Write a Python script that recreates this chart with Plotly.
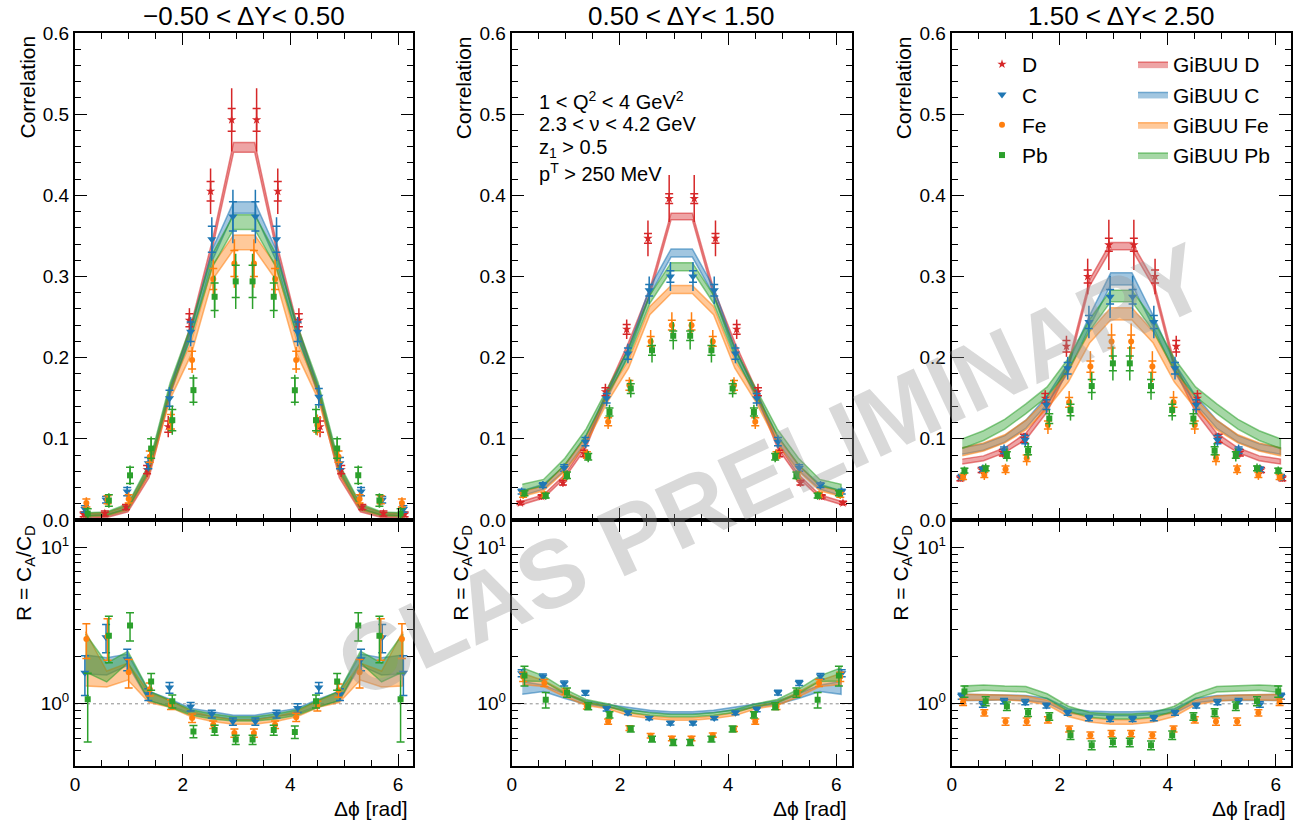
import numpy as np
import plotly.graph_objects as go

TWO_PI = 2 * np.pi

# bin centres in delta-phi (16 bins over 0..2pi)
PHI = [0.196, 0.589, 0.982, 1.374, 1.767, 2.160, 2.553, 2.945,
       3.338, 3.731, 4.123, 4.516, 4.909, 5.301, 5.694, 6.087]

TITLES = ["\u22120.50 < \u0394Y< 0.50", "0.50 < \u0394Y< 1.50", "1.50 < \u0394Y< 2.50"]
TARGETS = ["D", "C", "Fe", "Pb"]
NUCLEI = ["C", "Fe", "Pb"]

# ---------------- -0.50 < dY < 0.50 ----------------
D_CORR_1 = [0.007, 0.008, 0.016, 0.062, 0.115, 0.246, 0.405, 0.493, 0.493, 0.405, 0.246, 0.115, 0.062, 0.016, 0.008, 0.007]
D_STAT_1 = [0.003, 0.003, 0.003, 0.005, 0.007, 0.008, 0.012, 0.014, 0.014, 0.012, 0.008, 0.007, 0.005, 0.003, 0.003, 0.003]
D_TOT_1 = [0.004, 0.004, 0.005, 0.009, 0.013, 0.015, 0.028, 0.039, 0.039, 0.028, 0.015, 0.013, 0.009, 0.005, 0.004, 0.004]
C_CORR_1 = [0.0135, 0.025, 0.035, 0.070, 0.150, 0.232, 0.346, 0.374, 0.374, 0.346, 0.232, 0.152, 0.070, 0.035, 0.025, 0.0135]
C_STAT_1 = [0.004, 0.004, 0.005, 0.007, 0.010, 0.012, 0.016, 0.018, 0.018, 0.016, 0.012, 0.010, 0.007, 0.005, 0.004, 0.004]
C_TOT_1 = [0.006, 0.006, 0.007, 0.010, 0.014, 0.018, 0.027, 0.033, 0.033, 0.027, 0.018, 0.014, 0.010, 0.007, 0.006, 0.006]
FE_CORR_1 = [0.021, 0.025, 0.026, 0.078, 0.121, 0.197, 0.297, 0.316, 0.316, 0.297, 0.197, 0.117, 0.078, 0.026, 0.025, 0.021]
FE_STAT_1 = [0.005, 0.005, 0.005, 0.007, 0.009, 0.011, 0.013, 0.016, 0.016, 0.013, 0.011, 0.009, 0.007, 0.005, 0.005, 0.005]
FE_TOT_1 = [0.007, 0.007, 0.008, 0.010, 0.013, 0.016, 0.024, 0.030, 0.030, 0.024, 0.016, 0.013, 0.010, 0.008, 0.007, 0.007]
PB_CORR_1 = [0.008, 0.024, 0.055, 0.088, 0.123, 0.160, 0.275, 0.294, 0.294, 0.275, 0.160, 0.123, 0.088, 0.055, 0.024, 0.008]
PB_STAT_1 = [0.006, 0.007, 0.010, 0.012, 0.013, 0.015, 0.017, 0.020, 0.020, 0.017, 0.015, 0.013, 0.012, 0.010, 0.007, 0.006]
PB_TOT_1 = [0.008, 0.009, 0.012, 0.015, 0.018, 0.019, 0.026, 0.034, 0.034, 0.026, 0.019, 0.018, 0.015, 0.012, 0.009, 0.008]

D_GIB_1 = [0.004, 0.005, 0.012, 0.055, 0.158, 0.238, 0.340, 0.459, 0.459, 0.340, 0.238, 0.158, 0.055, 0.012, 0.005, 0.004]
D_GIBW_1 = [0.002, 0.002, 0.002, 0.003, 0.004, 0.004, 0.005, 0.006, 0.006, 0.005, 0.004, 0.004, 0.003, 0.002, 0.002, 0.002]
C_GIB_1 = [0.006, 0.007, 0.015, 0.062, 0.160, 0.232, 0.327, 0.385, 0.385, 0.327, 0.232, 0.160, 0.062, 0.015, 0.007, 0.006]
C_GIBW_1 = [0.002, 0.002, 0.003, 0.004, 0.005, 0.006, 0.007, 0.007, 0.007, 0.007, 0.006, 0.005, 0.004, 0.003, 0.002, 0.002]
FE_GIB_1 = [0.006, 0.007, 0.015, 0.060, 0.155, 0.212, 0.305, 0.342, 0.342, 0.305, 0.212, 0.155, 0.060, 0.015, 0.007, 0.006]
FE_GIBW_1 = [0.002, 0.002, 0.003, 0.004, 0.006, 0.008, 0.009, 0.009, 0.009, 0.009, 0.008, 0.006, 0.004, 0.003, 0.002, 0.002]
PB_GIB_1 = [0.007, 0.008, 0.017, 0.065, 0.164, 0.234, 0.320, 0.367, 0.367, 0.320, 0.234, 0.164, 0.065, 0.017, 0.008, 0.007]
PB_GIBW_1 = [0.002, 0.002, 0.003, 0.004, 0.005, 0.007, 0.008, 0.009, 0.009, 0.008, 0.007, 0.005, 0.004, 0.003, 0.002, 0.002]

C_RAT_1 = [1.58, 2.67, 1.93, 1.15, 1.27, 0.96, 0.86, 0.77, 0.77, 0.86, 0.94, 1.27, 1.15, 1.93, 2.67, 1.58]
C_RERR_1 = [0.45, 0.55, 0.30, 0.10, 0.10, 0.06, 0.05, 0.04, 0.04, 0.05, 0.06, 0.10, 0.10, 0.30, 0.55, 0.45]
FE_RAT_1 = [2.60, 2.70, 1.59, 1.24, 0.99, 0.81, 0.735, 0.65, 0.65, 0.735, 0.82, 0.97, 1.22, 1.59, 2.70, 2.60]
FE_RERR_1 = [0.65, 0.80, 0.33, 0.12, 0.07, 0.05, 0.04, 0.04, 0.04, 0.04, 0.05, 0.07, 0.12, 0.33, 0.80, 0.65]
PB_RAT_1 = [1.07, 2.73, 3.17, 1.39, 1.04, 0.666, 0.68, 0.59, 0.59, 0.68, 0.66, 1.04, 1.39, 3.17, 2.73, 1.07]
PB_RERR_1 = [0.50, 0.90, 0.65, 0.17, 0.10, 0.06, 0.05, 0.04, 0.04, 0.05, 0.06, 0.10, 0.17, 0.65, 0.90, 0.50]

C_RGIB_1 = [1.80, 1.75, 1.92, 1.12, 1.02, 0.90, 0.86, 0.82, 0.82, 0.86, 0.90, 1.02, 1.12, 1.92, 1.75, 1.80]
C_RGIBW_1 = [0.25, 0.22, 0.16, 0.08, 0.05, 0.035, 0.03, 0.025, 0.025, 0.03, 0.035, 0.05, 0.08, 0.16, 0.22, 0.25]
FE_RGIB_1 = [2.10, 1.45, 1.62, 1.10, 1.00, 0.86, 0.80, 0.765, 0.765, 0.80, 0.86, 1.00, 1.10, 1.62, 1.45, 2.10]
FE_RGIBW_1 = [0.80, 0.17, 0.20, 0.08, 0.05, 0.035, 0.03, 0.025, 0.025, 0.03, 0.035, 0.05, 0.08, 0.20, 0.17, 0.80]
PB_RGIB_1 = [2.20, 1.60, 2.00, 1.13, 1.00, 0.88, 0.83, 0.80, 0.80, 0.83, 0.88, 1.00, 1.13, 2.00, 1.60, 2.20]
PB_RGIBW_1 = [0.60, 0.22, 0.17, 0.08, 0.05, 0.035, 0.03, 0.025, 0.025, 0.03, 0.035, 0.05, 0.08, 0.17, 0.22, 0.60]

# ---------------- 0.50 < dY < 1.50 ----------------
D_CORR_2 = [0.021, 0.029, 0.046, 0.082, 0.158, 0.235, 0.347, 0.396, 0.396, 0.347, 0.235, 0.158, 0.082, 0.046, 0.029, 0.021]
D_STAT_2 = [0.002, 0.002, 0.003, 0.004, 0.005, 0.006, 0.006, 0.006, 0.006, 0.006, 0.006, 0.005, 0.004, 0.003, 0.002, 0.002]
D_TOT_2 = [0.003, 0.004, 0.005, 0.007, 0.010, 0.012, 0.022, 0.029, 0.029, 0.022, 0.012, 0.010, 0.007, 0.005, 0.004, 0.003]
C_CORR_2 = [0.035, 0.043, 0.064, 0.0965, 0.150, 0.205, 0.283, 0.300, 0.300, 0.283, 0.205, 0.150, 0.0965, 0.064, 0.043, 0.035]
C_STAT_2 = [0.003, 0.003, 0.004, 0.005, 0.006, 0.007, 0.007, 0.007, 0.007, 0.007, 0.007, 0.006, 0.005, 0.004, 0.003, 0.003]
C_TOT_2 = [0.005, 0.005, 0.006, 0.008, 0.010, 0.012, 0.017, 0.018, 0.018, 0.017, 0.012, 0.010, 0.008, 0.006, 0.005, 0.005]
FE_CORR_2 = [0.031, 0.031, 0.055, 0.080, 0.121, 0.166, 0.220, 0.240, 0.240, 0.220, 0.166, 0.121, 0.080, 0.055, 0.031, 0.031]
FE_STAT_2 = [0.003, 0.003, 0.004, 0.004, 0.005, 0.006, 0.006, 0.006, 0.006, 0.006, 0.006, 0.005, 0.004, 0.004, 0.003, 0.003]
FE_TOT_2 = [0.005, 0.005, 0.006, 0.007, 0.009, 0.010, 0.014, 0.016, 0.016, 0.014, 0.010, 0.009, 0.007, 0.006, 0.005, 0.005]
PB_CORR_2 = [0.033, 0.030, 0.055, 0.078, 0.133, 0.162, 0.209, 0.227, 0.227, 0.209, 0.162, 0.133, 0.078, 0.055, 0.030, 0.033]
PB_STAT_2 = [0.003, 0.003, 0.004, 0.004, 0.005, 0.006, 0.006, 0.006, 0.006, 0.006, 0.006, 0.005, 0.004, 0.004, 0.003, 0.003]
PB_TOT_2 = [0.005, 0.005, 0.006, 0.007, 0.009, 0.011, 0.015, 0.017, 0.017, 0.015, 0.011, 0.009, 0.007, 0.006, 0.005, 0.005]

D_GIB_2 = [0.021, 0.029, 0.054, 0.092, 0.158, 0.216, 0.281, 0.374, 0.374, 0.281, 0.216, 0.158, 0.092, 0.054, 0.029, 0.021]
D_GIBW_2 = [0.002, 0.002, 0.002, 0.003, 0.003, 0.003, 0.004, 0.004, 0.004, 0.004, 0.003, 0.003, 0.003, 0.002, 0.002, 0.002]
C_GIB_2 = [0.033, 0.041, 0.064, 0.100, 0.154, 0.208, 0.282, 0.329, 0.329, 0.282, 0.208, 0.154, 0.100, 0.064, 0.041, 0.033]
C_GIBW_2 = [0.003, 0.003, 0.003, 0.004, 0.004, 0.004, 0.005, 0.005, 0.005, 0.005, 0.004, 0.004, 0.004, 0.003, 0.003, 0.003]
FE_GIB_2 = [0.032, 0.039, 0.064, 0.098, 0.150, 0.192, 0.258, 0.284, 0.284, 0.258, 0.192, 0.150, 0.098, 0.064, 0.039, 0.032]
FE_GIBW_2 = [0.003, 0.003, 0.004, 0.004, 0.005, 0.005, 0.005, 0.005, 0.005, 0.005, 0.005, 0.005, 0.004, 0.004, 0.003, 0.003]
PB_GIB_2 = [0.040, 0.046, 0.072, 0.108, 0.158, 0.206, 0.272, 0.312, 0.312, 0.272, 0.206, 0.158, 0.108, 0.072, 0.046, 0.040]
PB_GIBW_2 = [0.004, 0.004, 0.004, 0.004, 0.004, 0.005, 0.005, 0.005, 0.005, 0.005, 0.005, 0.004, 0.004, 0.004, 0.004, 0.004]

C_RAT_2 = [1.57, 1.49, 1.35, 1.175, 0.93, 0.875, 0.81, 0.753, 0.753, 0.81, 0.875, 0.92, 1.18, 1.36, 1.50, 1.57]
C_RERR_2 = [0.08, 0.06, 0.05, 0.04, 0.03, 0.025, 0.02, 0.02, 0.02, 0.02, 0.025, 0.03, 0.04, 0.05, 0.06, 0.08]
FE_RAT_2 = [1.49, 1.36, 1.20, 0.966, 0.77, 0.70, 0.625, 0.60, 0.60, 0.63, 0.69, 0.77, 0.96, 1.17, 1.36, 1.49]
FE_RERR_2 = [0.10, 0.07, 0.05, 0.04, 0.03, 0.025, 0.02, 0.02, 0.02, 0.02, 0.025, 0.03, 0.04, 0.05, 0.07, 0.10]
PB_RAT_2 = [1.52, 1.06, 1.18, 0.966, 0.85, 0.69, 0.595, 0.567, 0.567, 0.595, 0.69, 0.85, 0.966, 1.18, 1.06, 1.52]
PB_RERR_2 = [0.22, 0.12, 0.08, 0.05, 0.04, 0.03, 0.025, 0.025, 0.025, 0.025, 0.03, 0.04, 0.05, 0.08, 0.12, 0.22]

C_RGIB_2 = [1.27, 1.26, 1.12, 1.02, 0.97, 0.93, 0.895, 0.875, 0.875, 0.895, 0.93, 0.97, 1.02, 1.12, 1.26, 1.27]
C_RGIBW_2 = [0.12, 0.06, 0.04, 0.025, 0.02, 0.02, 0.015, 0.015, 0.015, 0.015, 0.02, 0.02, 0.025, 0.04, 0.06, 0.12]
FE_RGIB_2 = [1.45, 1.35, 1.15, 1.00, 0.95, 0.86, 0.82, 0.80, 0.80, 0.82, 0.86, 0.95, 1.00, 1.15, 1.35, 1.45]
FE_RGIBW_2 = [0.12, 0.06, 0.04, 0.025, 0.02, 0.02, 0.015, 0.015, 0.015, 0.015, 0.02, 0.02, 0.025, 0.04, 0.06, 0.12]
PB_RGIB_2 = [1.55, 1.45, 1.20, 1.04, 0.98, 0.90, 0.86, 0.84, 0.84, 0.86, 0.90, 0.98, 1.04, 1.20, 1.45, 1.55]
PB_RGIBW_2 = [0.15, 0.06, 0.04, 0.025, 0.02, 0.02, 0.015, 0.015, 0.015, 0.015, 0.02, 0.02, 0.025, 0.04, 0.06, 0.15]

# ---------------- 1.50 < dY < 2.50 ----------------
D_CORR_3 = [0.0513, 0.0616, 0.083, 0.1006, 0.150, 0.214, 0.300, 0.339, 0.339, 0.300, 0.214, 0.150, 0.1006, 0.083, 0.0616, 0.0513]
D_STAT_3 = [0.003, 0.003, 0.004, 0.005, 0.006, 0.007, 0.008, 0.008, 0.008, 0.008, 0.007, 0.006, 0.005, 0.004, 0.003, 0.003]
D_TOT_3 = [0.004, 0.005, 0.006, 0.007, 0.010, 0.013, 0.022, 0.031, 0.031, 0.022, 0.013, 0.010, 0.007, 0.006, 0.005, 0.004]
C_CORR_3 = [0.053, 0.0624, 0.086, 0.099, 0.142, 0.187, 0.244, 0.275, 0.275, 0.244, 0.187, 0.142, 0.099, 0.086, 0.0624, 0.053]
C_STAT_3 = [0.003, 0.003, 0.004, 0.005, 0.006, 0.007, 0.008, 0.009, 0.009, 0.008, 0.007, 0.006, 0.005, 0.004, 0.003, 0.003]
C_TOT_3 = [0.005, 0.006, 0.007, 0.008, 0.011, 0.014, 0.020, 0.026, 0.026, 0.020, 0.014, 0.011, 0.008, 0.007, 0.006, 0.005]
FE_CORR_3 = [0.053, 0.0554, 0.0624, 0.076, 0.117, 0.145, 0.189, 0.220, 0.220, 0.189, 0.145, 0.117, 0.076, 0.0624, 0.0554, 0.053]
FE_STAT_3 = [0.003, 0.003, 0.004, 0.004, 0.005, 0.006, 0.007, 0.008, 0.008, 0.007, 0.006, 0.005, 0.004, 0.004, 0.003, 0.003]
FE_TOT_3 = [0.005, 0.006, 0.007, 0.009, 0.011, 0.014, 0.019, 0.022, 0.022, 0.019, 0.014, 0.011, 0.009, 0.007, 0.006, 0.005]
PB_CORR_3 = [0.0608, 0.0636, 0.080, 0.0854, 0.125, 0.1355, 0.165, 0.193, 0.193, 0.165, 0.1355, 0.125, 0.0854, 0.080, 0.0636, 0.0608]
PB_STAT_3 = [0.003, 0.003, 0.004, 0.005, 0.006, 0.007, 0.008, 0.009, 0.009, 0.008, 0.007, 0.006, 0.005, 0.004, 0.003, 0.003]
PB_TOT_3 = [0.005, 0.006, 0.008, 0.010, 0.011, 0.013, 0.017, 0.021, 0.021, 0.017, 0.013, 0.011, 0.010, 0.008, 0.006, 0.005]

D_GIB_3 = [0.072, 0.076, 0.086, 0.103, 0.137, 0.190, 0.292, 0.3375, 0.3375, 0.292, 0.190, 0.137, 0.103, 0.086, 0.076, 0.072]
D_GIBW_3 = [0.003, 0.003, 0.003, 0.004, 0.004, 0.004, 0.004, 0.0045, 0.0045, 0.004, 0.004, 0.004, 0.004, 0.003, 0.003, 0.003]
C_GIB_3 = [0.085, 0.090, 0.100, 0.118, 0.148, 0.188, 0.245, 0.297, 0.297, 0.245, 0.188, 0.148, 0.118, 0.100, 0.090, 0.085]
C_GIBW_3 = [0.004, 0.004, 0.004, 0.005, 0.005, 0.006, 0.007, 0.0075, 0.0075, 0.007, 0.006, 0.005, 0.005, 0.004, 0.004, 0.004]
FE_GIB_3 = [0.084, 0.090, 0.100, 0.117, 0.143, 0.177, 0.225, 0.254, 0.254, 0.225, 0.177, 0.143, 0.117, 0.100, 0.090, 0.084]
FE_GIBW_3 = [0.005, 0.005, 0.005, 0.006, 0.006, 0.007, 0.007, 0.0075, 0.0075, 0.007, 0.007, 0.006, 0.006, 0.005, 0.005, 0.005]
PB_GIB_3 = [0.094, 0.104, 0.118, 0.137, 0.158, 0.192, 0.240, 0.276, 0.276, 0.240, 0.192, 0.158, 0.137, 0.118, 0.104, 0.094]
PB_GIBW_3 = [0.006, 0.006, 0.006, 0.006, 0.006, 0.007, 0.007, 0.007, 0.007, 0.007, 0.007, 0.006, 0.006, 0.006, 0.006, 0.006]

C_RAT_3 = [1.12, 0.99, 1.04, 1.025, 0.975, 0.875, 0.81, 0.80, 0.80, 0.81, 0.875, 0.975, 1.025, 1.04, 0.99, 1.12]
C_RERR_3 = [0.05, 0.04, 0.04, 0.04, 0.035, 0.03, 0.03, 0.03, 0.03, 0.03, 0.03, 0.035, 0.04, 0.04, 0.04, 0.05]
FE_RAT_3 = [1.025, 0.875, 0.77, 0.77, 0.79, 0.69, 0.63, 0.645, 0.645, 0.63, 0.69, 0.79, 0.77, 0.77, 0.875, 1.025]
FE_RERR_3 = [0.05, 0.04, 0.04, 0.04, 0.035, 0.03, 0.03, 0.03, 0.03, 0.03, 0.03, 0.035, 0.04, 0.04, 0.04, 0.05]
PB_RAT_3 = [1.20, 1.04, 0.966, 0.88, 0.83, 0.63, 0.543, 0.567, 0.567, 0.543, 0.63, 0.83, 0.88, 0.966, 1.04, 1.20]
PB_RERR_3 = [0.10, 0.07, 0.06, 0.05, 0.045, 0.04, 0.035, 0.035, 0.035, 0.035, 0.04, 0.045, 0.05, 0.06, 0.07, 0.10]

C_RGIB_3 = [1.10, 1.10, 1.10, 1.09, 1.05, 0.90, 0.875, 0.865, 0.865, 0.875, 0.90, 1.05, 1.09, 1.10, 1.10, 1.10]
C_RGIBW_3 = [0.05, 0.05, 0.04, 0.04, 0.035, 0.03, 0.025, 0.025, 0.025, 0.025, 0.03, 0.035, 0.04, 0.04, 0.05, 0.05]
FE_RGIB_3 = [1.10, 1.10, 1.10, 1.08, 1.02, 0.86, 0.79, 0.765, 0.765, 0.79, 0.86, 1.02, 1.08, 1.10, 1.10, 1.10]
FE_RGIBW_3 = [0.05, 0.05, 0.04, 0.04, 0.035, 0.03, 0.025, 0.025, 0.025, 0.025, 0.03, 0.035, 0.04, 0.04, 0.05, 0.05]
PB_RGIB_3 = [1.24, 1.27, 1.25, 1.24, 1.12, 0.93, 0.85, 0.83, 0.83, 0.85, 0.93, 1.12, 1.24, 1.25, 1.27, 1.24]
PB_RGIBW_3 = [0.06, 0.05, 0.05, 0.05, 0.04, 0.035, 0.03, 0.03, 0.03, 0.03, 0.035, 0.04, 0.05, 0.05, 0.05, 0.06]

PANELS = [
    dict(corr={"D": (D_CORR_1, D_STAT_1, D_TOT_1), "C": (C_CORR_1, C_STAT_1, C_TOT_1),
               "Fe": (FE_CORR_1, FE_STAT_1, FE_TOT_1), "Pb": (PB_CORR_1, PB_STAT_1, PB_TOT_1)},
         gib={"D": (D_GIB_1, D_GIBW_1), "C": (C_GIB_1, C_GIBW_1),
              "Fe": (FE_GIB_1, FE_GIBW_1), "Pb": (PB_GIB_1, PB_GIBW_1)},
         rat={"C": (C_RAT_1, C_RERR_1), "Fe": (FE_RAT_1, FE_RERR_1), "Pb": (PB_RAT_1, PB_RERR_1)},
         rgib={"C": (C_RGIB_1, C_RGIBW_1), "Fe": (FE_RGIB_1, FE_RGIBW_1), "Pb": (PB_RGIB_1, PB_RGIBW_1)}),
    dict(corr={"D": (D_CORR_2, D_STAT_2, D_TOT_2), "C": (C_CORR_2, C_STAT_2, C_TOT_2),
               "Fe": (FE_CORR_2, FE_STAT_2, FE_TOT_2), "Pb": (PB_CORR_2, PB_STAT_2, PB_TOT_2)},
         gib={"D": (D_GIB_2, D_GIBW_2), "C": (C_GIB_2, C_GIBW_2),
              "Fe": (FE_GIB_2, FE_GIBW_2), "Pb": (PB_GIB_2, PB_GIBW_2)},
         rat={"C": (C_RAT_2, C_RERR_2), "Fe": (FE_RAT_2, FE_RERR_2), "Pb": (PB_RAT_2, PB_RERR_2)},
         rgib={"C": (C_RGIB_2, C_RGIBW_2), "Fe": (FE_RGIB_2, FE_RGIBW_2), "Pb": (PB_RGIB_2, PB_RGIBW_2)}),
    dict(corr={"D": (D_CORR_3, D_STAT_3, D_TOT_3), "C": (C_CORR_3, C_STAT_3, C_TOT_3),
               "Fe": (FE_CORR_3, FE_STAT_3, FE_TOT_3), "Pb": (PB_CORR_3, PB_STAT_3, PB_TOT_3)},
         gib={"D": (D_GIB_3, D_GIBW_3), "C": (C_GIB_3, C_GIBW_3),
              "Fe": (FE_GIB_3, FE_GIBW_3), "Pb": (PB_GIB_3, PB_GIBW_3)},
         rat={"C": (C_RAT_3, C_RERR_3), "Fe": (FE_RAT_3, FE_RERR_3), "Pb": (PB_RAT_3, PB_RERR_3)},
         rgib={"C": (C_RGIB_3, C_RGIBW_3), "Fe": (FE_RGIB_3, FE_RGIBW_3), "Pb": (PB_RGIB_3, PB_RGIBW_3)}),
]

COLORS = {"D": (214, 39, 40), "C": (31, 119, 180), "Fe": (255, 127, 14), "Pb": (44, 160, 44)}
SYMBOLS = {"D": "star", "C": "triangle-down", "Fe": "circle", "Pb": "square"}
SIZES = {"D": 7, "C": 8, "Fe": 6, "Pb": 6}
# small horizontal shifts so overlapping targets stay readable (mirrored about pi)
SHIFT = {"D": -0.035, "C": -0.012, "Fe": 0.015, "Pb": 0.04}

W, H = 1301, 825
FONT = "Liberation Sans, Arial, Helvetica, sans-serif"
X_PX = [(75.0, 413.3), (511.7, 851.7), (951.7, 1291.0)]
TOP_PX = (33.0, 520.0)
BOT_PX = (520.0, 766.0)


def rgb(c, a=1.0):
    return f"rgba({c[0]},{c[1]},{c[2]},{a})"


def px_x(v):
    return v / W


def px_y(v):
    return 1 - v / H


def shifted(name):
    d = SHIFT[name]
    return [p + d if p < np.pi else p - d for p in PHI]


fig = go.Figure()
layout = dict(width=W, height=H,
              margin=dict(l=0, r=0, t=0, b=0, pad=0, autoexpand=False), autosize=False,
              paper_bgcolor="white", plot_bgcolor="white",
              font=dict(family=FONT, color="black", size=19), showlegend=True)

axis_base = dict(showline=True, linewidth=2, linecolor="black", mirror="ticks",
                 ticks="inside", ticklen=12, tickwidth=1.3, tickcolor="black", automargin=False,
                 showgrid=False, zeroline=False, tickfont=dict(size=19, family=FONT, color="black"))
minor_x = dict(ticks="inside", ticklen=6, tickwidth=1, tickcolor="black", dtick=0.5, tick0=0, showgrid=False)

annotations = []

for p, panel in enumerate(PANELS):
    it, ib = 2 * p + 1, 2 * p + 2
    xt = "x" if it == 1 else f"x{it}"
    yt = "y" if it == 1 else f"y{it}"
    xb, yb = f"x{ib}", f"y{ib}"
    dom = [px_x(X_PX[p][0]), px_x(X_PX[p][1])]

    layout["xaxis" if it == 1 else f"xaxis{it}"] = dict(
        axis_base, domain=dom, anchor=yt, range=[0, TWO_PI], dtick=2, tick0=0,
        showticklabels=False, minor=minor_x)
    layout["yaxis" if it == 1 else f"yaxis{it}"] = dict(
        axis_base, domain=[px_y(TOP_PX[1]), px_y(TOP_PX[0])], anchor=xt, range=[0, 0.6],
        dtick=0.1, tick0=0, tickformat=".1f",
        minor=dict(ticks="inside", ticklen=6, tickwidth=1, tickcolor="black", dtick=0.02, tick0=0, showgrid=False))
    layout[f"xaxis{ib}"] = dict(
        axis_base, domain=dom, anchor=yb, range=[0, TWO_PI], dtick=2, tick0=0, minor=minor_x)
    layout[f"yaxis{ib}"] = dict(
        axis_base, domain=[px_y(BOT_PX[1]), px_y(BOT_PX[0])], anchor=xb, type="log",
        range=[np.log10(0.4), np.log10(15)], tickmode="array", tickvals=[1, 10],
        ticktext=["10<sup>0</sup>", "10<sup>1</sup>"],
        minor=dict(ticks="inside", ticklen=6, tickwidth=1, tickcolor="black", showgrid=False,
                   tickmode="array", tickvals=[0.4, 0.5, 0.6, 0.7, 0.8, 0.9, 2, 3, 4, 5, 6, 7, 8, 9]))

    # GiBUU bands, correlation panel
    for name in TARGETS:
        cen, hw = panel["gib"][name]
        hi = [c + w for c, w in zip(cen, hw)]
        lo = [c - w for c, w in zip(cen, hw)]
        fig.add_trace(go.Scatter(
            x=PHI + PHI[::-1], y=hi + lo[::-1], xaxis=xt, yaxis=yt, mode="lines",
            fill="toself", fillcolor=rgb(COLORS[name], 0.42),
            line=dict(color=rgb(COLORS[name], 0.55), width=1.5),
            name=f"GiBUU {name}", legend="legend2", showlegend=(p == 0), hoverinfo="skip"))

    # measured correlations: total (no caps) + statistical (capped)
    for name in TARGETS:
        val, stat, tot = panel["corr"][name]
        xs = shifted(name)
        col = rgb(COLORS[name])
        fig.add_trace(go.Scatter(
            x=xs, y=val, xaxis=xt, yaxis=yt, mode="markers",
            marker=dict(size=1, color=col),
            error_y=dict(type="data", array=tot, visible=True, color=col, thickness=1.5, width=0),
            showlegend=False, hoverinfo="skip"))
        fig.add_trace(go.Scatter(
            x=xs, y=val, xaxis=xt, yaxis=yt, mode="markers",
            marker=dict(size=SIZES[name], color=col, symbol=SYMBOLS[name]),
            error_y=dict(type="data", array=stat, visible=True, color=col, thickness=1.5, width=4),
            name=name, legend="legend", showlegend=(p == 0)))

    # ratio panel
    fig.add_trace(go.Scatter(
        x=[0, TWO_PI], y=[1, 1], xaxis=xb, yaxis=yb, mode="lines",
        line=dict(color="rgb(140,140,140)", width=1, dash="dot"), showlegend=False, hoverinfo="skip"))
    for name in NUCLEI:
        cen, hw = panel["rgib"][name]
        hi = [c + w for c, w in zip(cen, hw)]
        lo = [c - w for c, w in zip(cen, hw)]
        fig.add_trace(go.Scatter(
            x=PHI + PHI[::-1], y=hi + lo[::-1], xaxis=xb, yaxis=yb, mode="lines",
            fill="toself", fillcolor=rgb(COLORS[name], 0.42),
            line=dict(color=rgb(COLORS[name], 0.55), width=1.5),
            showlegend=False, hoverinfo="skip"))
    for name in NUCLEI:
        val, err = panel["rat"][name]
        col = rgb(COLORS[name])
        fig.add_trace(go.Scatter(
            x=shifted(name), y=val, xaxis=xb, yaxis=yb, mode="markers",
            marker=dict(size=SIZES[name], color=col, symbol=SYMBOLS[name]),
            error_y=dict(type="data", array=err, visible=True, color=col, thickness=1.5, width=4),
            showlegend=False))

    # titles and axis labels
    xc = (X_PX[p][0] + X_PX[p][1]) / 2
    annotations.append(dict(text=TITLES[p], x=px_x(xc), y=px_y(16), xref="paper", yref="paper",
                            xanchor="center", yanchor="middle", showarrow=False,
                            font=dict(size=26, family=FONT, color="black")))
    annotations.append(dict(text="Correlation", x=px_x(X_PX[p][0] - 48), y=px_y(34),
                            xref="paper", yref="paper", xanchor="center", yanchor="top",
                            textangle=-90, showarrow=False, font=dict(size=21, family=FONT, color="black")))
    annotations.append(dict(text="R = C<sub>A</sub>/C<sub>D</sub>", x=px_x(X_PX[p][0] - 50), y=px_y(523),
                            xref="paper", yref="paper", xanchor="center", yanchor="top",
                            textangle=-90, showarrow=False, font=dict(size=21, family=FONT, color="black")))
    annotations.append(dict(text="\u0394\u03d5 [rad]", x=px_x(X_PX[p][1] - 3), y=px_y(808),
                            xref="paper", yref="paper", xanchor="right", yanchor="middle",
                            showarrow=False, font=dict(size=21, family=FONT, color="black")))

# kinematic selection text
CUTS = ["1 < Q<sup>2</sup> < 4 GeV<sup>2</sup>", "2.3 < \u03bd < 4.2 GeV",
        "z<sub>1</sub> > 0.5", "p<sup>T</sup> > 250 MeV"]
for k, txt in enumerate(CUTS):
    annotations.append(dict(text=txt, x=px_x(537), y=px_y(100 + 24.3 * k), xref="paper", yref="paper",
                            xanchor="left", yanchor="middle", showarrow=False,
                            font=dict(size=20, family=FONT, color="black")))

# watermark
annotations.append(dict(text="<b>CLAS PRELIMINARY</b>", x=px_x(772), y=px_y(470),
                        xref="paper", yref="paper", xanchor="center", yanchor="middle",
                        textangle=-25, showarrow=False,
                        font=dict(size=96, family=FONT, color="rgba(150,150,150,0.36)")))

layout["annotations"] = annotations
layout["legend"] = dict(x=px_x(982), y=px_y(44), xanchor="left", yanchor="top",
                        bgcolor="rgba(0,0,0,0)", font=dict(size=21, family=FONT, color="black"),
                        traceorder="normal", itemwidth=30)
layout["legend2"] = dict(x=px_x(1133), y=px_y(44), xanchor="left", yanchor="top",
                         bgcolor="rgba(0,0,0,0)", font=dict(size=21, family=FONT, color="black"),
                         traceorder="normal", itemwidth=30)

fig.update_layout(**layout)
fig.write_html("out.html")
